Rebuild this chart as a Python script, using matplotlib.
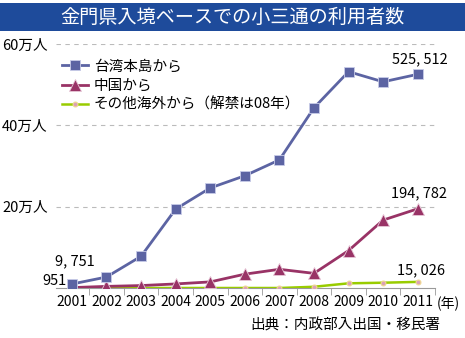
import matplotlib
matplotlib.use('Agg')
import matplotlib.pyplot as plt
from matplotlib.patches import Rectangle

plt.rcParams['font.family'] = ['Noto Sans CJK JP', 'DejaVu Sans']

# data ------------------------------------------------------------
years = ['2001', '2002', '2003', '2004', '2005', '2006',
         '2007', '2008', '2009', '2010', '2011']
taiwan = [9751, 27000, 78000, 194000, 246000, 276000,
          315000, 443000, 532000, 507000, 525512]
china = [951, 4000, 6000, 10000, 15000, 34000,
         46000, 36000, 92000, 167000, 194782]
others = [0, 0, 0, 0, 0, 0, 0, 3000, 11500, 13000, 15026]
series_names = ['台湾本島から', '中国から', 'その他海外から（解禁は08年）']
yticks = [200000, 400000, 600000]
ytick_labels = ['20万人', '40万人', '60万人']

W, H = 465, 338
fig = plt.figure(figsize=(W / 100, H / 100), dpi=100)
fig.patch.set_facecolor('white')

# title bar
fig.patches.append(Rectangle((0, 1 - 31 / H), 1, 28 / H, transform=fig.transFigure,
                             facecolor='#1e4b9b', edgecolor='none'))
fig.text(0.5, 1 - 17.5 / H, '金門県入境ベースでの小三通の利用者数', color='white',
         fontsize=13.8, ha='center', va='center')

ax = fig.add_axes([56 / W, 50 / H, (435 - 56) / W, (288 - 44) / H])
x = list(range(len(years)))

ax.plot(x, others, color='#99cc00', lw=1.8, marker='o', ms=3.5,
        mfc='#d9a0b8', mec='#f0d890', mew=0.8, zorder=3, label=series_names[2])
ax.plot(x, china, color='#993366', lw=2.0, marker='^', ms=8,
        mfc='#993366', mec='#e8c8d8', mew=0.6, zorder=4, label=series_names[1])
ax.plot(x, taiwan, color='#5c64a3', lw=2.0, marker='s', ms=6.5,
        mfc='#5c64a3', mec='#c8cce8', mew=0.6, zorder=5, label=series_names[0])

ax.set_xlim(-0.46, len(years) - 0.54)
ax.set_ylim(0, 600000)
ax.set_yticks(yticks)
ax.set_yticklabels(ytick_labels, fontsize=10.5)
ax.yaxis.grid(True, color='#bbbbbb', ls=(0, (4, 4)), lw=0.8)
ax.tick_params(axis='y', length=0, pad=6)

ax.set_xticks(x)
ax.set_xticklabels(years, fontsize=10)
ax.tick_params(axis='x', length=0, pad=5)
ax.set_xticks([i + 0.5 for i in x], minor=True)
ax.tick_params(axis='x', which='minor', length=5, color='#999999', direction='out')

for s in ['top', 'right', 'left']:
    ax.spines[s].set_visible(False)
ax.spines['bottom'].set_color('#999999')

# value labels
lab = dict(fontsize=10.5)
ax.text(x[-1] + 0.05, taiwan[-1] + 20000, '525, 512', ha='center', va='bottom', **lab)
ax.text(x[-1] + 0.05, china[-1] + 20000, '194, 782', ha='center', va='bottom', **lab)
ax.text(x[-1] + 0.1, others[-1] + 12000, '15, 026', ha='center', va='bottom', **lab)
ax.text(x[0] + 0.1, taiwan[0] + 55000, '9, 751', ha='center', va='center', **lab)
ax.text(x[0] - 0.15, 18000, '951', ha='right', va='center', **lab)

handles, labels = ax.get_legend_handles_labels()
leg = ax.legend(handles[::-1], labels[::-1], loc='upper left', bbox_to_anchor=(0.0, 0.96),
                frameon=False, fontsize=10.5, handlelength=1.8, handletextpad=0.4,
                labelspacing=0.35, borderaxespad=0.0)

fig.text(437 / W, 1 - 304 / H, '(年)', fontsize=10, ha='left', va='center')
fig.text(440 / W, 1 - 325 / H, '出典：内政部入出国・移民署', fontsize=10.5, ha='right', va='center')

fig.savefig('out.png', dpi=100)
